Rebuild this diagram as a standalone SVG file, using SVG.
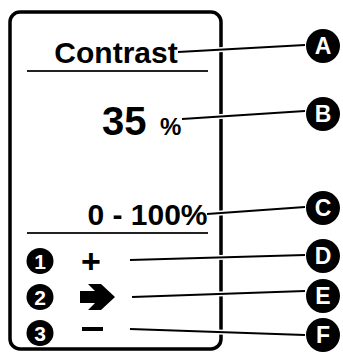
<svg xmlns="http://www.w3.org/2000/svg" width="343" height="352" viewBox="0 0 343 352">
<style>
.t{font-family:"Liberation Sans",Arial,sans-serif;font-weight:bold;fill:#000}
.sep{stroke:#222;stroke-width:2}
.halo{stroke:#fff;stroke-width:5;fill:none}
.ln{stroke:#000;stroke-width:2;fill:none}
.callout{fill:#000}
.cl{font-family:"Liberation Sans",Arial,sans-serif;font-weight:bold;fill:#fff;font-size:23px;text-anchor:middle}
.num{font-family:"Liberation Sans",Arial,sans-serif;font-weight:bold;fill:#fff;font-size:21px;text-anchor:middle}
</style>
<rect width="343" height="352" fill="#fff"/>
<g id="panel">
<rect x="10" y="12" width="211" height="337" rx="10" fill="none" stroke="#000" stroke-width="3.5"/>
<line class="sep" x1="27" y1="71" x2="208" y2="71"/>
<line class="sep" x1="27" y1="233" x2="208" y2="233"/>
</g>
<g id="title"><text class="t" x="116" y="63" font-size="30" text-anchor="middle">Contrast</text></g>
<g id="value"><text class="t" x="102" y="135" font-size="40">35</text><text class="t" x="160" y="135" font-size="24">%</text></g>
<g id="range"><text class="t" x="147.5" y="225" font-size="30" text-anchor="middle">0 - 100%</text></g>
<g id="key1"><ellipse cx="40" cy="261" rx="13.5" ry="13" fill="#000"/><text class="num" x="40" y="268.5">1</text><text class="t" x="91" y="273" font-size="34" text-anchor="middle">+</text></g>
<g id="key2"><ellipse cx="40" cy="297" rx="13.5" ry="13" fill="#000"/><text class="num" x="40" y="304.5">2</text><polygon points="80,291 95,291 88,284 101,284 115,297 101,310 88,310 95,303 80,303" fill="#000"/></g>
<g id="key3"><ellipse cx="40" cy="333" rx="13.5" ry="13" fill="#000"/><text class="num" x="40" y="340.5">3</text><rect x="82" y="327" width="21" height="4" fill="#000"/></g>
<g id="connectors">
<path class="halo" d="M178,52 L305,45 M182,119 L305,111 M207,214 L305,207 M130,260 L305,255 M132,297 L305,291 M130,329 L305,335"/>
<path class="ln" d="M178,52 L305,45 M182,119 L305,111 M207,214 L305,207 M130,260 L305,255 M132,297 L305,291 M130,329 L305,335"/>
</g>
<g id="A"><circle class="callout" cx="323" cy="46" r="17"/><text class="cl" x="323" y="54">A</text></g>
<g id="B"><circle class="callout" cx="323" cy="114" r="17"/><text class="cl" x="323" y="122">B</text></g>
<g id="C"><circle class="callout" cx="323" cy="208" r="17"/><text class="cl" x="323" y="216">C</text></g>
<g id="D"><circle class="callout" cx="323" cy="256" r="17"/><text class="cl" x="323" y="264">D</text></g>
<g id="E"><circle class="callout" cx="323" cy="296" r="17"/><text class="cl" x="323" y="304">E</text></g>
<g id="F"><circle class="callout" cx="323" cy="335" r="17"/><text class="cl" x="323" y="343">F</text></g>
</svg>
